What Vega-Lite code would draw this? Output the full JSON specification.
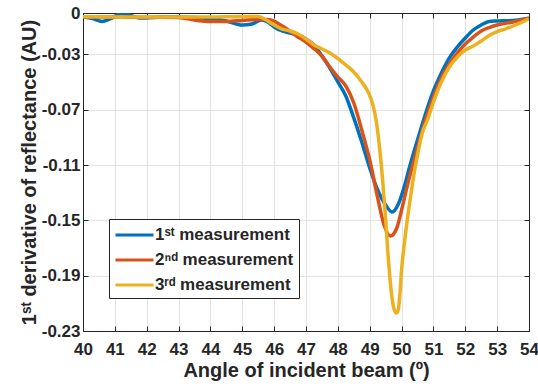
{
  "$schema": "https://vega.github.io/schema/vega-lite/v6.json",
  "width": 446,
  "height": 318,
  "autosize": {"type": "none"},
  "padding": {"left": 83, "top": 13, "right": 9, "bottom": 56},
  "background": "white",
  "config": {
    "font": "Liberation Sans",
    "view": {"stroke": "#262626", "strokeWidth": 1}
  },
  "datasets": {
    "curves": [
      {"a": 40, "v": -0.0027, "s": "1ˢᵗ measurement"},
      {"a": 40.3, "v": -0.004, "s": "1ˢᵗ measurement"},
      {"a": 40.6, "v": -0.0061, "s": "1ˢᵗ measurement"},
      {"a": 40.85, "v": -0.0043, "s": "1ˢᵗ measurement"},
      {"a": 41.2, "v": -0.0004, "s": "1ˢᵗ measurement"},
      {"a": 41.5, "v": -0.0018, "s": "1ˢᵗ measurement"},
      {"a": 41.8, "v": -0.0036, "s": "1ˢᵗ measurement"},
      {"a": 42.2, "v": -0.0033, "s": "1ˢᵗ measurement"},
      {"a": 42.6, "v": -0.0029, "s": "1ˢᵗ measurement"},
      {"a": 43, "v": -0.0029, "s": "1ˢᵗ measurement"},
      {"a": 43.5, "v": -0.0033, "s": "1ˢᵗ measurement"},
      {"a": 44, "v": -0.004, "s": "1ˢᵗ measurement"},
      {"a": 44.5, "v": -0.0058, "s": "1ˢᵗ measurement"},
      {"a": 45, "v": -0.0087, "s": "1ˢᵗ measurement"},
      {"a": 45.3, "v": -0.008, "s": "1ˢᵗ measurement"},
      {"a": 45.6, "v": -0.0051, "s": "1ˢᵗ measurement"},
      {"a": 45.8, "v": -0.0065, "s": "1ˢᵗ measurement"},
      {"a": 46, "v": -0.0101, "s": "1ˢᵗ measurement"},
      {"a": 46.25, "v": -0.013, "s": "1ˢᵗ measurement"},
      {"a": 46.5, "v": -0.0145, "s": "1ˢᵗ measurement"},
      {"a": 46.75, "v": -0.0159, "s": "1ˢᵗ measurement"},
      {"a": 47, "v": -0.0188, "s": "1ˢᵗ measurement"},
      {"a": 47.25, "v": -0.0231, "s": "1ˢᵗ measurement"},
      {"a": 47.5, "v": -0.0311, "s": "1ˢᵗ measurement"},
      {"a": 47.75, "v": -0.0398, "s": "1ˢᵗ measurement"},
      {"a": 48, "v": -0.0499, "s": "1ˢᵗ measurement"},
      {"a": 48.25, "v": -0.06, "s": "1ˢᵗ measurement"},
      {"a": 48.5, "v": -0.0759, "s": "1ˢᵗ measurement"},
      {"a": 48.75, "v": -0.0933, "s": "1ˢᵗ measurement"},
      {"a": 49, "v": -0.1121, "s": "1ˢᵗ measurement"},
      {"a": 49.25, "v": -0.128, "s": "1ˢᵗ measurement"},
      {"a": 49.5, "v": -0.1389, "s": "1ˢᵗ measurement"},
      {"a": 49.7, "v": -0.1439, "s": "1ˢᵗ measurement"},
      {"a": 49.9, "v": -0.1381, "s": "1ˢᵗ measurement"},
      {"a": 50.1, "v": -0.1244, "s": "1ˢᵗ measurement"},
      {"a": 50.25, "v": -0.1114, "s": "1ˢᵗ measurement"},
      {"a": 50.5, "v": -0.0919, "s": "1ˢᵗ measurement"},
      {"a": 50.75, "v": -0.073, "s": "1ˢᵗ measurement"},
      {"a": 51, "v": -0.0564, "s": "1ˢᵗ measurement"},
      {"a": 51.25, "v": -0.0434, "s": "1ˢᵗ measurement"},
      {"a": 51.5, "v": -0.0325, "s": "1ˢᵗ measurement"},
      {"a": 51.75, "v": -0.0246, "s": "1ˢᵗ measurement"},
      {"a": 52, "v": -0.0181, "s": "1ˢᵗ measurement"},
      {"a": 52.25, "v": -0.0123, "s": "1ˢᵗ measurement"},
      {"a": 52.5, "v": -0.0087, "s": "1ˢᵗ measurement"},
      {"a": 52.75, "v": -0.0061, "s": "1ˢᵗ measurement"},
      {"a": 53, "v": -0.0058, "s": "1ˢᵗ measurement"},
      {"a": 53.5, "v": -0.0054, "s": "1ˢᵗ measurement"},
      {"a": 54, "v": -0.0038, "s": "1ˢᵗ measurement"},

      {"a": 40, "v": -0.0027, "s": "2ⁿᵈ measurement"},
      {"a": 40.5, "v": -0.0029, "s": "2ⁿᵈ measurement"},
      {"a": 41, "v": -0.0029, "s": "2ⁿᵈ measurement"},
      {"a": 41.5, "v": -0.003, "s": "2ⁿᵈ measurement"},
      {"a": 42, "v": -0.003, "s": "2ⁿᵈ measurement"},
      {"a": 42.5, "v": -0.003, "s": "2ⁿᵈ measurement"},
      {"a": 43, "v": -0.0032, "s": "2ⁿᵈ measurement"},
      {"a": 43.5, "v": -0.0051, "s": "2ⁿᵈ measurement"},
      {"a": 44, "v": -0.0061, "s": "2ⁿᵈ measurement"},
      {"a": 44.5, "v": -0.0061, "s": "2ⁿᵈ measurement"},
      {"a": 45, "v": -0.0054, "s": "2ⁿᵈ measurement"},
      {"a": 45.5, "v": -0.0047, "s": "2ⁿᵈ measurement"},
      {"a": 45.8, "v": -0.0047, "s": "2ⁿᵈ measurement"},
      {"a": 46, "v": -0.0058, "s": "2ⁿᵈ measurement"},
      {"a": 46.2, "v": -0.0087, "s": "2ⁿᵈ measurement"},
      {"a": 46.4, "v": -0.0116, "s": "2ⁿᵈ measurement"},
      {"a": 46.7, "v": -0.0166, "s": "2ⁿᵈ measurement"},
      {"a": 47, "v": -0.021, "s": "2ⁿᵈ measurement"},
      {"a": 47.3, "v": -0.0268, "s": "2ⁿᵈ measurement"},
      {"a": 47.5, "v": -0.0311, "s": "2ⁿᵈ measurement"},
      {"a": 47.75, "v": -0.0391, "s": "2ⁿᵈ measurement"},
      {"a": 48, "v": -0.0463, "s": "2ⁿᵈ measurement"},
      {"a": 48.25, "v": -0.0528, "s": "2ⁿᵈ measurement"},
      {"a": 48.5, "v": -0.0651, "s": "2ⁿᵈ measurement"},
      {"a": 48.75, "v": -0.0846, "s": "2ⁿᵈ measurement"},
      {"a": 49, "v": -0.1063, "s": "2ⁿᵈ measurement"},
      {"a": 49.25, "v": -0.1338, "s": "2ⁿᵈ measurement"},
      {"a": 49.45, "v": -0.1533, "s": "2ⁿᵈ measurement"},
      {"a": 49.65, "v": -0.1613, "s": "2ⁿᵈ measurement"},
      {"a": 49.85, "v": -0.1555, "s": "2ⁿᵈ measurement"},
      {"a": 50, "v": -0.1425, "s": "2ⁿᵈ measurement"},
      {"a": 50.2, "v": -0.123, "s": "2ⁿᵈ measurement"},
      {"a": 50.5, "v": -0.0976, "s": "2ⁿᵈ measurement"},
      {"a": 50.75, "v": -0.0774, "s": "2ⁿᵈ measurement"},
      {"a": 51, "v": -0.0608, "s": "2ⁿᵈ measurement"},
      {"a": 51.25, "v": -0.047, "s": "2ⁿᵈ measurement"},
      {"a": 51.5, "v": -0.0369, "s": "2ⁿᵈ measurement"},
      {"a": 51.75, "v": -0.0289, "s": "2ⁿᵈ measurement"},
      {"a": 52, "v": -0.0224, "s": "2ⁿᵈ measurement"},
      {"a": 52.25, "v": -0.0174, "s": "2ⁿᵈ measurement"},
      {"a": 52.5, "v": -0.013, "s": "2ⁿᵈ measurement"},
      {"a": 52.75, "v": -0.0105, "s": "2ⁿᵈ measurement"},
      {"a": 53, "v": -0.0087, "s": "2ⁿᵈ measurement"},
      {"a": 53.5, "v": -0.0065, "s": "2ⁿᵈ measurement"},
      {"a": 54, "v": -0.0038, "s": "2ⁿᵈ measurement"},

      {"a": 40, "v": -0.0027, "s": "3ʳᵈ measurement"},
      {"a": 41, "v": -0.0029, "s": "3ʳᵈ measurement"},
      {"a": 42, "v": -0.0029, "s": "3ʳᵈ measurement"},
      {"a": 43, "v": -0.0029, "s": "3ʳᵈ measurement"},
      {"a": 44, "v": -0.0029, "s": "3ʳᵈ measurement"},
      {"a": 45, "v": -0.0025, "s": "3ʳᵈ measurement"},
      {"a": 45.5, "v": -0.0025, "s": "3ʳᵈ measurement"},
      {"a": 45.75, "v": -0.0051, "s": "3ʳᵈ measurement"},
      {"a": 46, "v": -0.0087, "s": "3ʳᵈ measurement"},
      {"a": 46.25, "v": -0.0116, "s": "3ʳᵈ measurement"},
      {"a": 46.5, "v": -0.013, "s": "3ʳᵈ measurement"},
      {"a": 46.75, "v": -0.0152, "s": "3ʳᵈ measurement"},
      {"a": 47, "v": -0.0188, "s": "3ʳᵈ measurement"},
      {"a": 47.25, "v": -0.0231, "s": "3ʳᵈ measurement"},
      {"a": 47.5, "v": -0.026, "s": "3ʳᵈ measurement"},
      {"a": 47.75, "v": -0.0289, "s": "3ʳᵈ measurement"},
      {"a": 48, "v": -0.0329, "s": "3ʳᵈ measurement"},
      {"a": 48.25, "v": -0.0376, "s": "3ʳᵈ measurement"},
      {"a": 48.5, "v": -0.0427, "s": "3ʳᵈ measurement"},
      {"a": 48.75, "v": -0.0499, "s": "3ʳᵈ measurement"},
      {"a": 48.95, "v": -0.0571, "s": "3ʳᵈ measurement"},
      {"a": 49.1, "v": -0.0665, "s": "3ʳᵈ measurement"},
      {"a": 49.2, "v": -0.0774, "s": "3ʳᵈ measurement"},
      {"a": 49.3, "v": -0.0955, "s": "3ʳᵈ measurement"},
      {"a": 49.4, "v": -0.1193, "s": "3ʳᵈ measurement"},
      {"a": 49.5, "v": -0.1497, "s": "3ʳᵈ measurement"},
      {"a": 49.6, "v": -0.1823, "s": "3ʳᵈ measurement"},
      {"a": 49.7, "v": -0.2061, "s": "3ʳᵈ measurement"},
      {"a": 49.8, "v": -0.2163, "s": "3ʳᵈ measurement"},
      {"a": 49.85, "v": -0.217, "s": "3ʳᵈ measurement"},
      {"a": 49.9, "v": -0.2141, "s": "3ʳᵈ measurement"},
      {"a": 49.95, "v": -0.2025, "s": "3ʳᵈ measurement"},
      {"a": 50, "v": -0.1859, "s": "3ʳᵈ measurement"},
      {"a": 50.1, "v": -0.1642, "s": "3ʳᵈ measurement"},
      {"a": 50.2, "v": -0.1461, "s": "3ʳᵈ measurement"},
      {"a": 50.3, "v": -0.1302, "s": "3ʳᵈ measurement"},
      {"a": 50.4, "v": -0.115, "s": "3ʳᵈ measurement"},
      {"a": 50.5, "v": -0.1027, "s": "3ʳᵈ measurement"},
      {"a": 50.65, "v": -0.0868, "s": "3ʳᵈ measurement"},
      {"a": 50.8, "v": -0.0781, "s": "3ʳᵈ measurement"},
      {"a": 51, "v": -0.0644, "s": "3ʳᵈ measurement"},
      {"a": 51.25, "v": -0.0499, "s": "3ʳᵈ measurement"},
      {"a": 51.5, "v": -0.0391, "s": "3ʳᵈ measurement"},
      {"a": 51.75, "v": -0.0318, "s": "3ʳᵈ measurement"},
      {"a": 52, "v": -0.0268, "s": "3ʳᵈ measurement"},
      {"a": 52.25, "v": -0.0239, "s": "3ʳᵈ measurement"},
      {"a": 52.5, "v": -0.0203, "s": "3ʳᵈ measurement"},
      {"a": 52.75, "v": -0.0163, "s": "3ʳᵈ measurement"},
      {"a": 53, "v": -0.0134, "s": "3ʳᵈ measurement"},
      {"a": 53.25, "v": -0.0116, "s": "3ʳᵈ measurement"},
      {"a": 53.5, "v": -0.0094, "s": "3ʳᵈ measurement"},
      {"a": 53.75, "v": -0.0069, "s": "3ʳᵈ measurement"},
      {"a": 54, "v": -0.0043, "s": "3ʳᵈ measurement"}
    ]
  },
  "data": {"name": "curves"},
  "layer": [
    {
      "mark": {"type": "line", "strokeWidth": 3.5, "interpolate": "monotone", "clip": true},
      "encoding": {
        "x": {
          "field": "a", "type": "quantitative",
          "scale": {"domain": [40, 54], "nice": false},
          "axis": {
            "values": [40, 41, 42, 43, 44, 45, 46, 47, 48, 49, 50, 51, 52, 53, 54],
            "title": "Angle of incident beam (º)",
            "labelFontSize": 17, "labelFontWeight": "bold", "labelColor": "#262626",
            "titleFontSize": 20, "titleFontWeight": "bold", "titleColor": "#262626",
            "labelPadding": 15, "titlePadding": 3,
            "grid": true, "gridColor": "#e3e3e3", "gridWidth": 1,
            "domainColor": "#262626", "tickColor": "#262626", "tickSize": -5,
            "labelFlush": false
          }
        },
        "y": {
          "field": "v", "type": "quantitative",
          "scale": {"domain": [-0.23, 0], "nice": false, "zero": false},
          "axis": {
            "values": [0, -0.03, -0.07, -0.11, -0.15, -0.19, -0.23],
            "labelExpr": "datum.value == 0 ? '0' : '-' + format(abs(datum.value), '.2f')",
            "title": "1ˢᵗ derivative of reflectance (AU)",
            "labelFontSize": 17, "labelFontWeight": "bold", "labelColor": "#262626",
            "titleFontSize": 20, "titleFontWeight": "bold", "titleColor": "#262626",
            "labelPadding": 8, "titlePadding": 2,
            "grid": true, "gridColor": "#e3e3e3", "gridWidth": 1,
            "domainColor": "#262626", "tickColor": "#262626", "tickSize": -5,
            "labelFlush": false
          }
        },
        "color": {
          "field": "s", "type": "nominal",
          "scale": {
            "domain": ["1ˢᵗ measurement", "2ⁿᵈ measurement", "3ʳᵈ measurement"],
            "range": ["#0072BD", "#D95319", "#EDB120"]
          },
          "legend": {
            "title": null,
            "orient": "none", "legendX": 26, "legendY": 206,
            "symbolType": "M-1,0H3", "symbolSize": 361, "symbolStrokeWidth": 3,
            "labelFontSize": 17, "labelFontWeight": "bold", "labelColor": "#262626",
            "labelOffset": 19,
            "strokeColor": "#262626", "fillColor": "white",
            "padding": 5, "rowPadding": 6
          }
        }
      }
    },
    {
      "mark": {"type": "line", "opacity": 0},
      "encoding": {
        "x": {
          "field": "a", "type": "quantitative",
          "axis": {"orient": "top", "labels": false, "title": null, "grid": false, "values": [40, 41, 42, 43, 44, 45, 46, 47, 48, 49, 50, 51, 52, 53, 54], "domainColor": "#262626", "tickColor": "#262626", "tickSize": -5}
        },
        "y": {
          "field": "v", "type": "quantitative",
          "axis": {"orient": "right", "labels": false, "title": null, "grid": false, "values": [0, -0.03, -0.07, -0.11, -0.15, -0.19, -0.23], "domainColor": "#262626", "tickColor": "#262626", "tickSize": -5}
        }
      }
    }
  ],
  "resolve": {"axis": {"x": "independent", "y": "independent"}}
}
